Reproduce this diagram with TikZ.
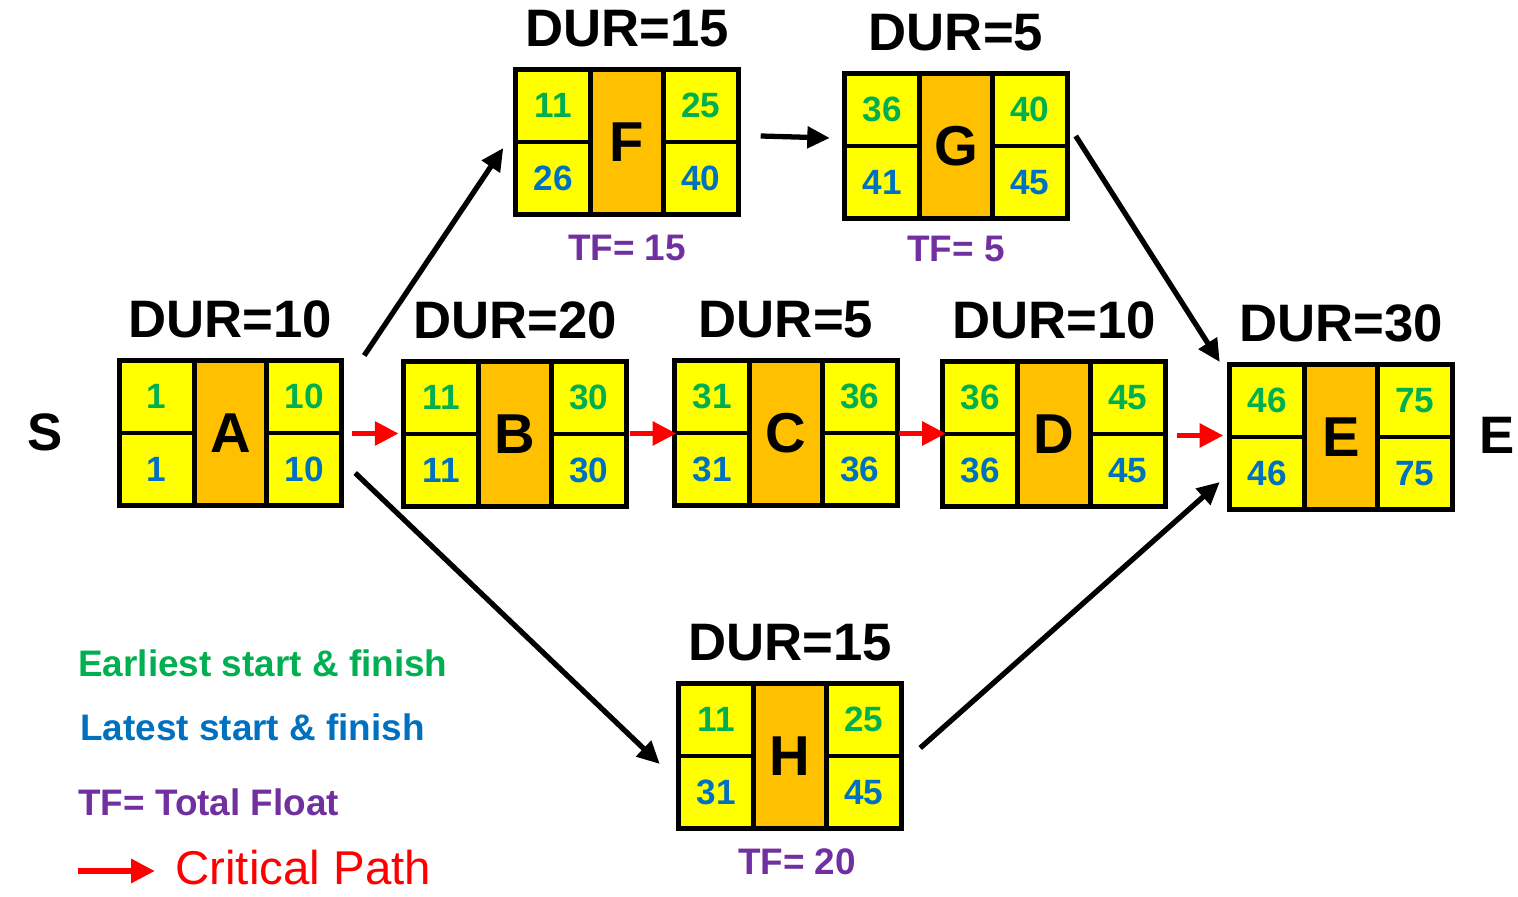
\documentclass[tikz,border=0pt]{standalone}
\usepackage{fontspec}
\setmainfont{Liberation Sans}
\usetikzlibrary{positioning,arrows.meta,calc}

\definecolor{cellyellow}{HTML}{FFFF00}
\definecolor{midorange}{HTML}{FFC000}
\definecolor{esgreen}{HTML}{00B050}
\definecolor{lsblue}{HTML}{0070C0}
\definecolor{tfpurple}{HTML}{7030A0}
\definecolor{critred}{HTML}{FF0000}

\begin{document}
\begin{tikzpicture}[
    activity/.style={rectangle, draw, fill=midorange, line width=2.8pt, minimum width=4.45cm, minimum height=2.9cm, inner sep=0pt, font=\bfseries\fontsize{32}{32}\selectfont},
    cell/.style={rectangle, draw, fill=cellyellow, line width=2.8pt, minimum width=1.5cm, minimum height=1.45cm, inner sep=0pt, font=\bfseries\fontsize{20}{20}\selectfont},
    early/.style={cell, text=esgreen},
    late/.style={cell, text=lsblue},
    dur/.style={font=\bfseries\fontsize{30}{30}\selectfont, inner sep=0pt},
    floatlabel/.style={font=\bfseries\fontsize{21}{21}\selectfont, text=tfpurple, inner sep=0pt},
    keytext/.style={font=\bfseries\fontsize{21}{21}\selectfont, anchor=west, inner sep=0pt},
    arrow/.style={-{Triangle[length=0.45cm, width=0.42cm]}, line width=3pt},
    crit/.style={-{Triangle[length=0.48cm, width=0.46cm]}, line width=3.4pt, critred}
]
\useasboundingbox (0,0) rectangle (30.36,17.92);

% Activities: name/x/y/duration/ES/EF/LS/LF
\foreach \n/\x/\y/\d/\es/\ef/\ls/\lf in {
    A/4.61/9.26/10/1/10/1/10,
    B/10.30/9.24/20/11/30/11/30,
    C/15.72/9.26/5/31/36/31/36,
    D/21.08/9.24/10/36/45/36/45,
    E/26.82/9.18/30/46/75/46/75,
    F/12.54/15.08/15/11/25/26/40,
    G/19.12/15.00/5/36/40/41/45,
    H/15.80/2.80/15/11/25/31/45} {
  \node[activity] (\n) at (\x,\y) {\n};
  \node[early, anchor=north west] at (\n.north west) {\es};
  \node[early, anchor=north east] at (\n.north east) {\ef};
  \node[late, anchor=south west] at (\n.south west) {\ls};
  \node[late, anchor=south east] at (\n.south east) {\lf};
  \node[dur, above=0.4cm of \n] {DUR=\d};
}

% Total float of the non-critical activities
\node[floatlabel, below=0.35cm of F] {TF= 15};
\node[floatlabel, below=0.3cm of G] {TF= 5};
\node[floatlabel, below=0.35cm of H, xshift=0.14cm] {TF= 20};

% Start and end
\node[font=\bfseries\fontsize{30}{30}\selectfont] (startS) at (0.9,9.28) {S};
\node[font=\bfseries\fontsize{30}{30}\selectfont] (endE) at (29.94,9.22) {E};

% Non-critical links
\draw[arrow] ([xshift=0.4cm,yshift=0.05cm]A.north east) -- ([xshift=-0.2cm,yshift=-0.12cm]F.west);
\draw[arrow] ([xshift=0.4cm,yshift=0.12cm]F.east) -- ([xshift=-0.25cm,yshift=0.16cm]G.west);
\draw[arrow] ([xshift=0.12cm,yshift=0.2cm]G.east) -- ([xshift=-0.15cm]E.north west);
\draw[arrow] ([xshift=0.22cm,yshift=-0.8cm]A.east) -- ([xshift=-0.33cm,yshift=-0.16cm]H.west);
\draw[arrow] ([xshift=0.33cm,yshift=0.16cm]H.east) -- ([xshift=-0.15cm,yshift=-0.9cm]E.west);

% Critical path
\foreach \u/\v in {A/B, B/C, C/D, D/E}
  \draw[crit] ($(\u.east)!0.5!(\v.west)+(-0.42,0)$) -- ($(\u.east)!0.5!(\v.west)+(0.52,0)$);

% Key
\node[keytext, text=esgreen] (keyEarly) at (1.56,4.66) {Earliest start \& finish};
\node[keytext, text=lsblue] (keyLate) at (1.6,3.38) {Latest start \& finish};
\node[keytext, text=tfpurple] (keyFloat) at (1.56,1.88) {TF= Total Float};
\node[keytext, font=\fontsize{27}{27}\selectfont, text=critred] (keyCrit) at (3.5,0.56) {Critical Path};
\coordinate (critTail) at (1.56,0.5);
\draw[crit] (critTail) -- ([xshift=-0.4cm]keyCrit.west |- critTail);

\end{tikzpicture}
\end{document}
